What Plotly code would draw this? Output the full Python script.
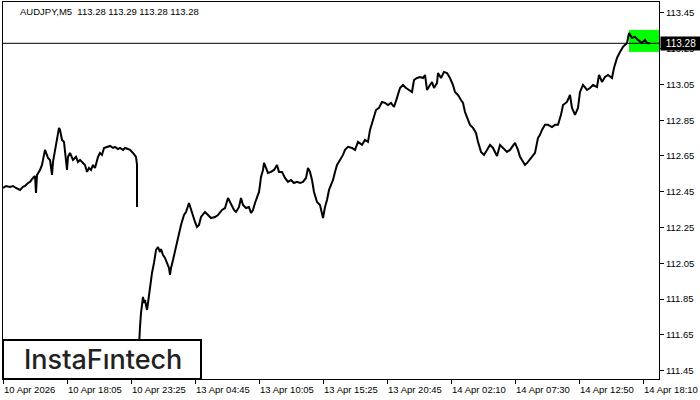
import plotly.graph_objects as go

# ---- data ----
title_text = "AUDJPY,M5  113.28 113.29 113.28 113.28"
last_price = 113.28

# Friday session (bar index, price)
fri_idx = [0, 3, 7, 10, 13, 17, 20, 22, 25, 27, 30, 32, 33, 34, 37, 39, 42, 45, 47, 49, 50, 52, 54, 56, 57,
           59, 61, 62, 64, 65, 67, 70, 73, 75, 77, 80, 82, 84, 86, 88, 90, 92, 95, 97, 99, 101, 104, 107,
           110, 112, 115, 117, 120, 122, 125, 127, 130, 132, 133, 134, 134]
fri_px = [112.471, 112.482, 112.477, 112.482, 112.471, 112.460, 112.477, 112.482, 112.499, 112.505, 112.527,
          112.538, 112.443, 112.544, 112.572, 112.600, 112.684, 112.639, 112.628, 112.544, 112.617, 112.684,
          112.757, 112.807, 112.796, 112.740, 112.729, 112.684, 112.572, 112.645, 112.667, 112.628, 112.645,
          112.617, 112.628, 112.611, 112.600, 112.561, 112.583, 112.572, 112.600, 112.583, 112.645, 112.667,
          112.656, 112.695, 112.701, 112.706, 112.695, 112.701, 112.689, 112.695, 112.684, 112.695, 112.689,
          112.684, 112.667, 112.656, 112.645, 112.600, 112.365]

# Monday-Tuesday (bar index, price)
mon_idx = [135, 136, 137, 138, 139, 140, 141, 142, 143, 144, 145, 147, 149, 151, 153, 155, 157, 158, 160, 162,
           164, 166, 167, 168, 170, 173, 175, 178, 181, 183, 186, 188, 190, 192, 194, 196, 198, 200, 202, 205,
           208, 212, 215, 219, 222, 225, 227, 229, 231, 233, 236, 238, 240, 243, 246, 248, 250, 252, 254, 256,
           257, 258, 260, 261, 263, 265, 268, 271, 274, 276, 279, 282, 285, 288, 291, 294, 297, 300, 303, 305,
           307, 309, 311, 314, 317, 319, 320, 322, 324, 326, 328, 330, 332, 334, 337, 340, 342, 345, 349, 352,
           355, 359, 362, 365, 367, 370, 373, 376, 379, 382, 385, 388, 391, 394, 397, 400, 403, 406, 409, 411,
           414, 417, 420, 422, 424, 427, 429, 431, 434, 435, 438, 441, 444, 447, 450, 452, 455, 458, 460, 462,
           464, 467, 470, 473, 475, 478, 481, 484, 487, 490, 492, 494, 497, 500, 504, 507, 510, 512, 515, 517,
           519, 522, 525, 529, 532, 535, 537, 539, 542, 545, 549, 552, 555, 558, 560, 564, 567, 569, 572, 575,
           577, 580, 584, 587, 590, 594, 596, 599, 602, 605, 609, 611, 614, 617, 620, 624, 626, 629, 632, 635,
           639, 642, 644, 647]
mon_px = [111.481, 111.621, 111.694, 111.772, 111.817, 111.862, 111.828, 111.845, 111.817, 111.789, 111.828,
          111.918, 111.996, 112.052, 112.124, 112.141, 112.113, 112.130, 112.096, 112.080, 112.052, 112.024,
          111.985, 112.024, 112.068, 112.141, 112.197, 112.264, 112.320, 112.337, 112.387, 112.348, 112.320,
          112.281, 112.253, 112.264, 112.309, 112.326, 112.337, 112.320, 112.303, 112.309, 112.320, 112.348,
          112.359, 112.415, 112.393, 112.376, 112.348, 112.337, 112.365, 112.415, 112.376, 112.359, 112.365,
          112.331, 112.348, 112.387, 112.415, 112.449, 112.488, 112.533, 112.572, 112.611, 112.583, 112.555,
          112.561, 112.572, 112.600, 112.561, 112.561, 112.527, 112.505, 112.516, 112.499, 112.505, 112.499,
          112.505, 112.527, 112.583, 112.561, 112.516, 112.449, 112.393, 112.376, 112.337, 112.303, 112.365,
          112.404, 112.460, 112.488, 112.516, 112.561, 112.600, 112.628, 112.656, 112.684, 112.701, 112.695,
          112.684, 112.729, 112.712, 112.740, 112.729, 112.796, 112.852, 112.907, 112.919, 112.952, 112.947,
          112.935, 112.947, 112.924, 112.975, 113.030, 113.047, 113.030, 113.019, 113.008, 113.075, 113.086,
          113.092, 113.086, 113.103, 113.019, 113.047, 113.064, 113.030, 113.058, 113.114, 113.086, 113.120,
          113.114, 113.086, 113.047, 113.008, 112.991, 112.963, 112.947, 112.896, 112.863, 112.824, 112.807,
          112.779, 112.729, 112.673, 112.656, 112.684, 112.712, 112.695, 112.673, 112.650, 112.712, 112.695,
          112.673, 112.684, 112.712, 112.723, 112.684, 112.645, 112.628, 112.600, 112.617, 112.645, 112.667,
          112.751, 112.768, 112.796, 112.824, 112.824, 112.812, 112.824, 112.824, 112.880, 112.935, 112.952,
          112.991, 112.919, 112.880, 112.919, 113.008, 113.047, 113.019, 113.030, 113.047, 113.036, 113.103,
          113.064, 113.092, 113.103, 113.086, 113.142, 113.198, 113.232, 113.260, 113.282, 113.338, 113.310,
          113.316, 113.299, 113.282, 113.299, 113.282, 113.280]

# Pattern highlight (bar index range, price range)
box_idx = [626, 656]
box_px = [113.232, 113.355]

# Axes
x_tick_idx = [0, 64, 128, 192, 256, 320, 384, 448, 512, 576, 640]
x_tick_labels = ["10 Apr 2026", "10 Apr 18:05", "10 Apr 23:25", "13 Apr 04:45", "13 Apr 10:05",
                 "13 Apr 15:25", "13 Apr 20:45", "14 Apr 02:10", "14 Apr 07:30", "14 Apr 12:50",
                 "14 Apr 18:10"]
y_ticks = [111.45, 111.65, 111.85, 112.05, 112.25, 112.45, 112.65, 112.85, 113.05, 113.25, 113.45]
x_range = [0, 656]
y_range = [111.403, 113.511]

FONT = "Liberation Sans"

fig = go.Figure()

x_all = fri_idx + [134.5] + mon_idx
y_all = fri_px + [None] + mon_px
fig.add_trace(go.Scatter(x=x_all, y=y_all, mode="lines", connectgaps=False,
                         line=dict(color="black", width=2), hoverinfo="skip", showlegend=False))

shapes = [
    dict(type="rect", xref="x", yref="y", x0=box_idx[0], x1=box_idx[1], y0=box_px[0], y1=box_px[1],
         fillcolor="#00ff00", line=dict(width=0), layer="below"),
    dict(type="line", xref="paper", yref="y", x0=0, x1=1, y0=last_price, y1=last_price,
         line=dict(color="black", width=1), layer="above"),
    dict(type="rect", xref="paper", yref="paper", x0=0.0, x1=198 / 656, y0=0, y1=39 / 377,
         fillcolor="white", line=dict(color="black", width=2), layer="above"),
]

annotations = [
    dict(text=title_text, xref="paper", yref="paper", x=16 / 656, y=1, xanchor="left", yanchor="middle",
         yshift=-9, showarrow=False, borderpad=0, font=dict(family=FONT, size=9.5, color="black")),
    dict(text="InstaF\u0131ntech", xref="paper", yref="paper", x=100 / 656, y=19.5 / 377,
         xanchor="center", yanchor="middle", showarrow=False,
         font=dict(family="Inter", size=27, color="#222222", weight=500)),
    dict(text=f"{last_price:.2f}", xref="paper", yref="y", x=1, y=last_price, xanchor="left",
         yanchor="middle", xshift=1, showarrow=False, bgcolor="black", borderpad=1,
         font=dict(family=FONT, size=10, color="white"), width=38),
]
for xi, lab in zip(x_tick_idx, x_tick_labels):
    annotations.append(dict(text=lab, xref="x", yref="paper", x=xi, y=0, xanchor="left",
                            yanchor="middle", yshift=-10, showarrow=False, borderpad=0,
                            font=dict(family=FONT, size=9.5, color="black")))

fig.update_layout(
    width=700, height=400,
    margin=dict(l=3, r=41, t=2, b=21, autoexpand=False),
    paper_bgcolor="white", plot_bgcolor="white",
    shapes=shapes, annotations=annotations,
    xaxis=dict(range=x_range, showgrid=False, zeroline=False, showline=True, linecolor="black",
               linewidth=1, mirror=True, ticks="outside", ticklen=4, tickcolor="black",
               tickvals=x_tick_idx, showticklabels=False, automargin=False),
    yaxis=dict(range=y_range, side="right", showgrid=False, zeroline=False, showline=True,
               linecolor="black", linewidth=1, mirror=True, ticks="outside", ticklen=4,
               tickcolor="black", tickvals=y_ticks, ticktext=[f"{v:.2f}" for v in y_ticks],
               tickfont=dict(family=FONT, size=9.5, color="black"), automargin=False),
)

fig.write_html("out.html", config={"displayModeBar": False},
               post_script="document.body.style.margin='0';document.body.style.padding='0';document.body.style.overflow='hidden';")
